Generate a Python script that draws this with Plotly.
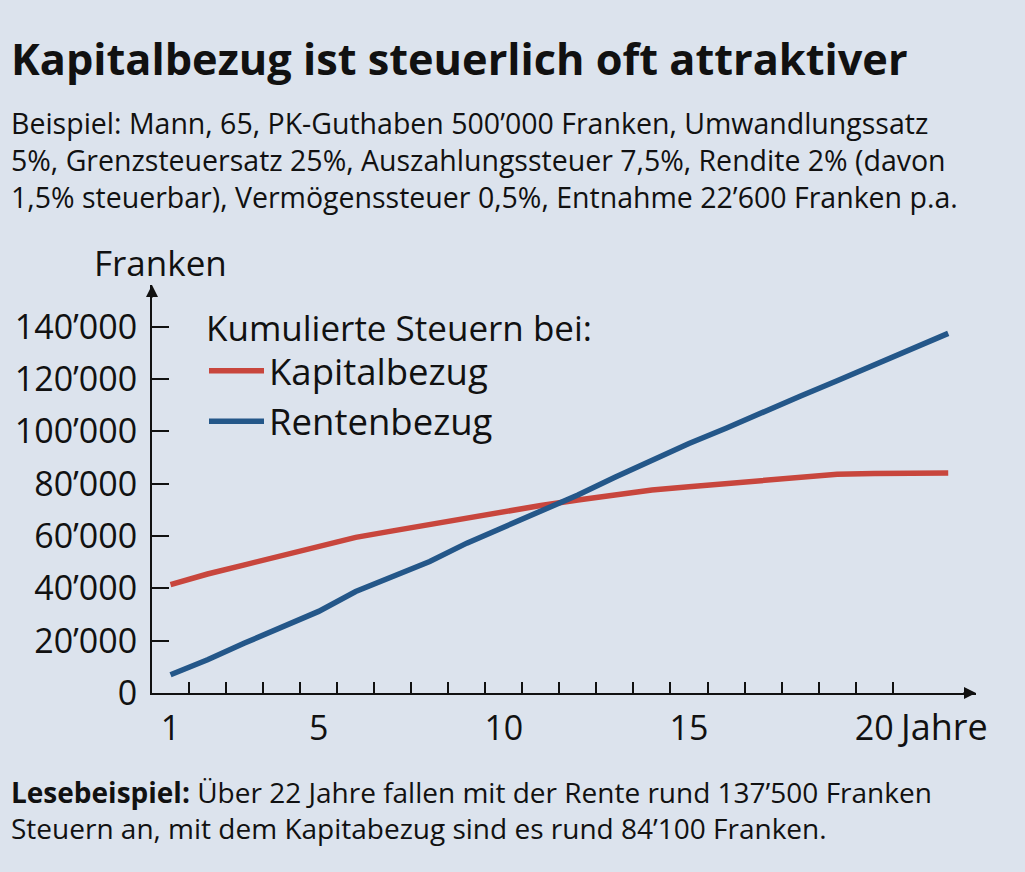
import plotly.graph_objects as go

# ---- data ----
years = list(range(1, 23))
kapitalbezug = [41400, 45500, 49000, 52400, 56000, 59500, 62000, 64500, 67200, 69700,
                71700, 73800, 75700, 77600, 78900, 80200, 81400, 82300, 83600, 83900,
                84200, 84100]
rentenbezug = [7000, 12700, 19100, 25400, 31200, 38800, 44500, 50300, 57300, 63300,
               69400, 75700, 82500, 89100, 95400, 101200, 107500, 113500, 119400, 125400,
               131300, 137500]
y_tickvals = [0, 20000, 40000, 60000, 80000, 100000, 120000, 140000]
y_ticktext = ["0", "20’000", "40’000", "60’000", "80’000", "100’000", "120’000", "140’000"]
x_label_vals = [1, 5, 10, 15, 20]
x_label_text = ["1", "5", "10", "15", "20"]
x_tick_marks = [i + 0.5 for i in range(1, 21)]

title = "Kapitalbezug ist steuerlich oft attraktiver"
subtitle = ("Beispiel: Mann, 65, PK-Guthaben 500’000 Franken, Umwandlungssatz<br>"
            "5%, Grenzsteuersatz 25%, Auszahlungssteuer 7,5%, Rendite 2% (davon<br>"
            "1,5% steuerbar), Vermögenssteuer 0,5%, Entnahme 22’600 Franken p.a.")
footnote = ("<b>Lesebeispiel:</b> Über 22 Jahre fallen mit der Rente rund 137’500 Franken<br>"
            "Steuern an, mit dem Kapitabezug sind es rund 84’100 Franken.")

BG = "#dce3ed"
RED = "#c8463d"
BLUE = "#245789"
INK = "#111111"
FONT = "Open Sans"

W, H = 1025, 872
ML, MR, MT, MB = 152, 49, 285, 179
PW, PH = W - ML - MR, H - MT - MB


def px(xp):
    return (xp - ML) / PW


def py(yp):
    return (H - MB - yp) / PH


fig = go.Figure()
fig.add_trace(go.Scatter(x=years, y=kapitalbezug, mode="lines", name="Kapitalbezug",
                         line=dict(color=RED, width=5.5)))
fig.add_trace(go.Scatter(x=years, y=rentenbezug, mode="lines", name="Rentenbezug",
                         xaxis="x2", line=dict(color=BLUE, width=5.5)))

fig.update_layout(
    width=W, height=H,
    margin=dict(l=ML, r=MR, t=MT, b=MB, autoexpand=False),
    paper_bgcolor=BG, plot_bgcolor=BG,
    font=dict(family=FONT, color=INK, size=34),
    showlegend=True,
    legend=dict(x=px(204), y=py(295), xanchor="left", yanchor="top",
                bgcolor="rgba(0,0,0,0)", font=dict(size=36.5),
                title=dict(text="Kumulierte Steuern bei:", font=dict(size=35)),
                tracegroupgap=0, itemwidth=55),
    xaxis=dict(range=[0.5, 22.75], tickvals=x_tick_marks, showticklabels=False,
               ticks="inside", ticklen=11, tickwidth=1.5, tickcolor=INK, automargin=False,
               showline=True, linecolor=INK, linewidth=2, showgrid=False, zeroline=False),
    xaxis2=dict(overlaying="x", matches="x", anchor="y", side="bottom",
                tickvals=x_label_vals, ticktext=x_label_text, ticks="", automargin=False,
                ticklabelstandoff=12, showline=False, showgrid=False, zeroline=False,
                tickfont=dict(size=34)),
    yaxis=dict(range=[0, 156000], tickvals=y_tickvals, ticktext=y_ticktext,
               ticks="inside", ticklen=17, tickwidth=1.5, tickcolor=INK, automargin=False,
               ticklabelstandoff=6, tickfont=dict(size=34),
               showline=True, linecolor=INK, linewidth=2, showgrid=False, zeroline=False),
)

annotations = [
    dict(text="<b>" + title + "</b>", xref="paper", yref="paper", x=px(9), y=py(58),
         xanchor="left", yanchor="middle", showarrow=False, font=dict(size=43.3)),
    dict(text=subtitle, xref="paper", yref="paper", x=px(9), y=py(160),
         xanchor="left", yanchor="middle", align="left", showarrow=False,
         font=dict(size=28.5)),
    dict(text="Franken", xref="paper", yref="paper", x=px(160), y=py(262), xanchor="center",
         yanchor="middle", showarrow=False, font=dict(size=35)),
    dict(text="Jahre", xref="x", yref="paper", x=20, xshift=22, y=0, yshift=-33,
         xanchor="left", yanchor="middle", showarrow=False, font=dict(size=36)),
    dict(text=footnote, xref="paper", yref="paper", x=px(9), y=py(810),
         xanchor="left", yanchor="middle", align="left", showarrow=False,
         font=dict(size=28)),
    # axis arrows
    dict(text="", xref="paper", yref="paper", x=1.0, y=0, ax=-14, ay=0, showarrow=True,
         arrowhead=2, arrowsize=1.2, arrowwidth=2, arrowcolor=INK),
    dict(text="", xref="paper", yref="paper", x=0, y=1.0, ax=0, ay=14, showarrow=True,
         arrowhead=2, arrowsize=1.2, arrowwidth=2, arrowcolor=INK),
]
fig.update_layout(annotations=annotations)

fig.write_html("out.html", config={"displayModeBar": False},
               post_script="document.body.style.margin='0';")
